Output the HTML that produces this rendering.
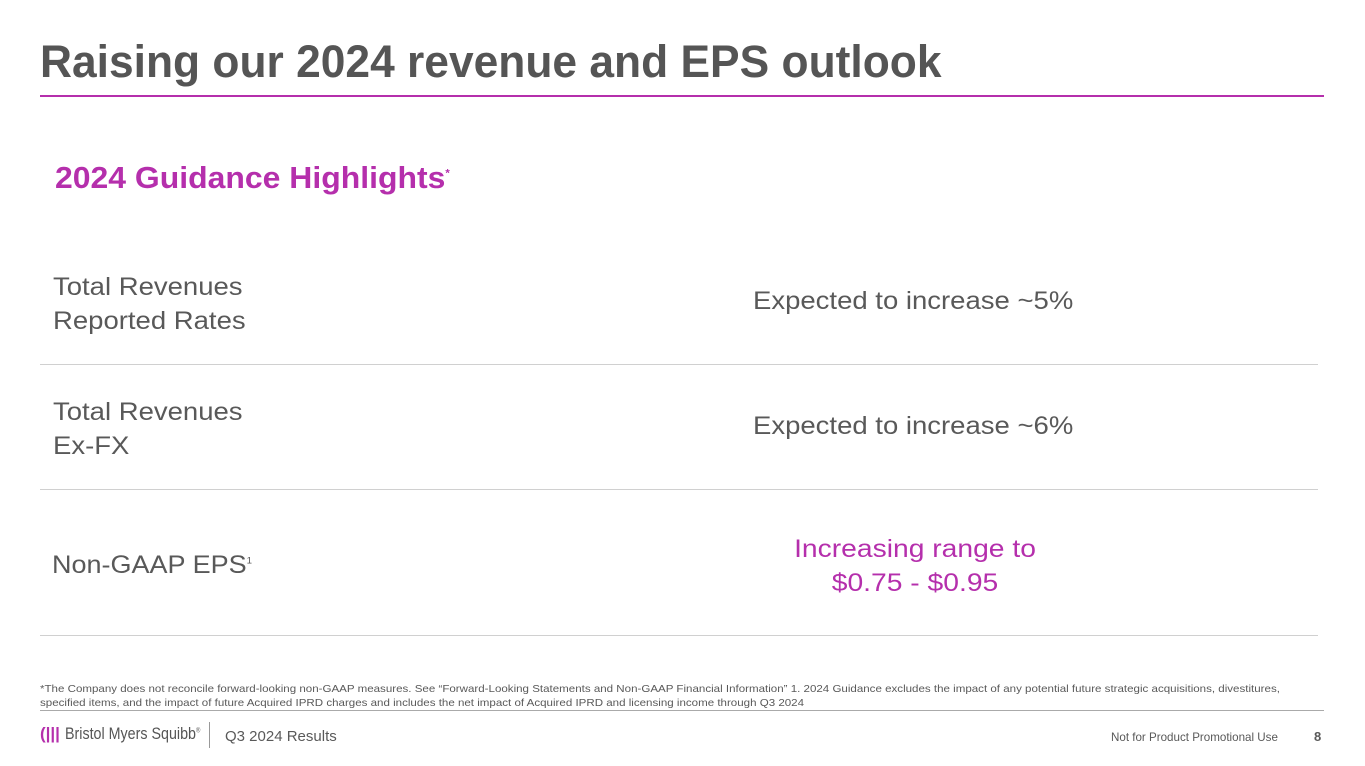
<!DOCTYPE html>
<html><head><meta charset="utf-8"><style>
body{margin:0;width:1365px;height:766px;background:#fff;position:relative;overflow:hidden;font-family:"Liberation Sans",sans-serif;color:#595959}
.a{position:absolute;white-space:nowrap}
.sx{display:inline-block;transform-origin:0 0}
.hr{position:absolute;height:1px;background:#d0d0d0}
</style></head><body>
<div class="a" style="left:40px;top:36px;font-size:45px;font-weight:bold;color:#555"><span class="sx" style="transform:scaleX(0.985)">Raising our 2024 revenue and EPS outlook</span></div>
<div class="a" style="left:40px;top:95px;width:1284px;height:2px;background:#b52fac"></div>
<div class="a" style="left:55px;top:160px;font-size:31px;font-weight:bold;color:#b52fac"><span class="sx" style="transform:scaleX(1.03)">2024 Guidance Highlights<sup style="font-size:11px">*</sup></span></div>

<div class="a" style="left:53px;top:270px;font-size:25px;line-height:34px"><span class="sx" style="transform:scaleX(1.1)">Total Revenues<br>Reported Rates</span></div>
<div class="a" style="left:753px;top:287px;font-size:25px"><span class="sx" style="transform:scaleX(1.1)">Expected to increase ~5%</span></div>
<div class="hr" style="left:40px;top:364px;width:1278px"></div>

<div class="a" style="left:53px;top:395px;font-size:25px;line-height:34px"><span class="sx" style="transform:scaleX(1.1)">Total Revenues<br>Ex-FX</span></div>
<div class="a" style="left:753px;top:412px;font-size:25px"><span class="sx" style="transform:scaleX(1.1)">Expected to increase ~6%</span></div>
<div class="hr" style="left:40px;top:489px;width:1278px"></div>

<div class="a" style="left:52px;top:551px;font-size:25px"><span class="sx" style="transform:scaleX(1.08)">Non-GAAP EPS<sup style="font-size:9px">1</sup></span></div>
<div class="a" style="left:765px;top:532px;width:300px;text-align:center;font-size:25px;line-height:34px;color:#b52fac;transform:scaleX(1.13);transform-origin:150px 0">Increasing range to<br>$0.75 - $0.95</div>
<div class="hr" style="left:40px;top:635px;width:1278px"></div>

<div class="a" style="left:40px;top:682px;font-size:10.5px;line-height:14px"><span class="sx" style="transform:scaleX(1.1)">*The Company does not reconcile forward-looking non-GAAP measures. See “Forward-Looking Statements and Non-GAAP Financial Information” 1. 2024 Guidance excludes the impact of any potential future strategic acquisitions, divestitures,<br>specified items, and the impact of future Acquired IPRD charges and includes the net impact of Acquired IPRD and licensing income through Q3 2024</span></div>
<div class="a" style="left:40px;top:710px;width:1284px;height:1px;background:#aaa"></div>
<div class="a" style="left:40px;top:724px;font-size:17px;color:#555"><span style="color:#b52fac;font-weight:bold">(|||</span> <span class="sx" style="transform:scaleX(0.84)">Bristol Myers Squibb<sup style="font-size:7px">®</sup></span></div>
<div class="a" style="left:209px;top:722px;width:1px;height:26px;background:#999"></div>
<div class="a" style="left:225px;top:728px;font-size:15px">Q3 2024 Results</div>
<div class="a" style="left:1111px;top:731px;font-size:11.6px">Not for Product Promotional Use</div>
<div class="a" style="left:1314px;top:729px;font-size:13px;font-weight:bold">8</div>
</body></html>
